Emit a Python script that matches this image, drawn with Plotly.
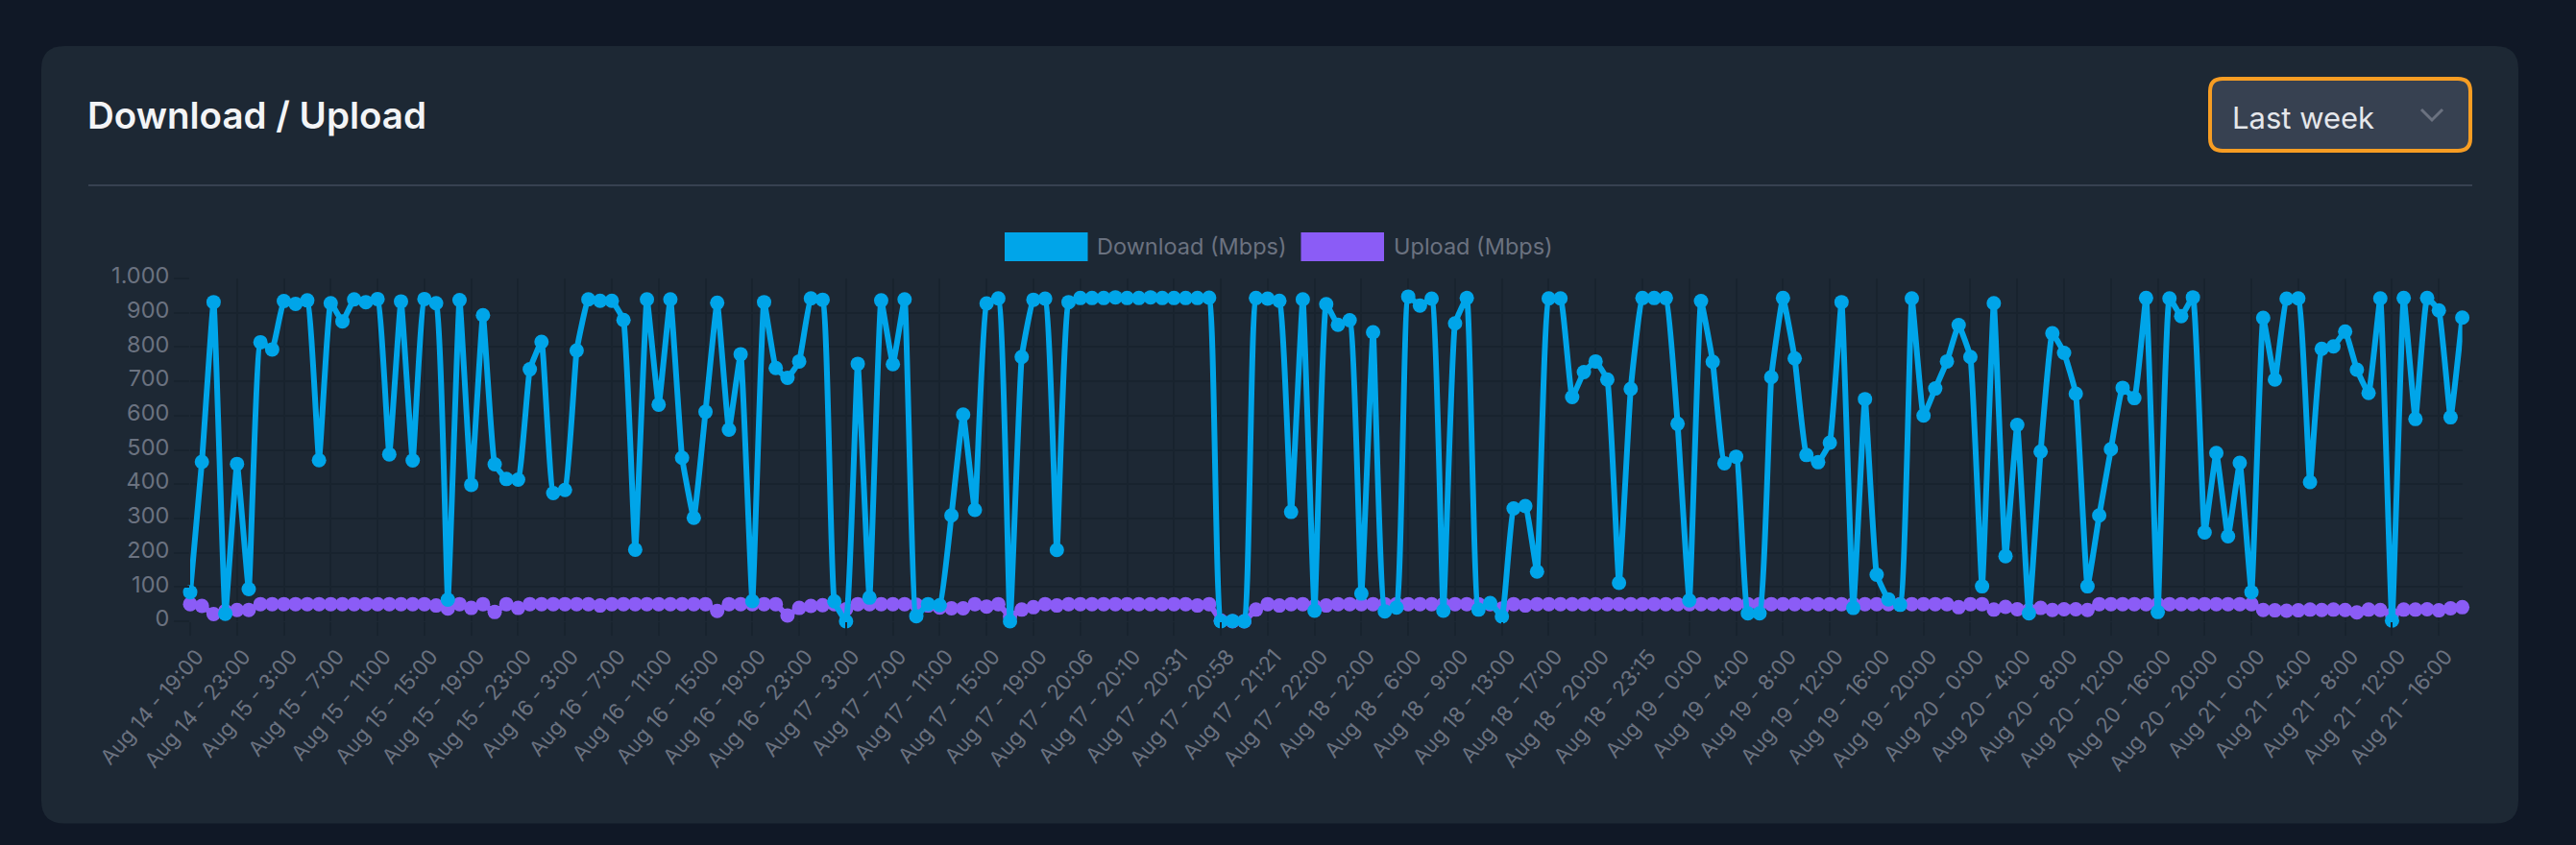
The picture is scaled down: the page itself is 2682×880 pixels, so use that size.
import plotly.graph_objects as go

W, H = 2682, 880

tick_labels = [
    "Aug 14 - 19:00", "Aug 14 - 23:00", "Aug 15 - 3:00", "Aug 15 - 7:00", "Aug 15 - 11:00",
    "Aug 15 - 15:00", "Aug 15 - 19:00", "Aug 15 - 23:00", "Aug 16 - 3:00", "Aug 16 - 7:00",
    "Aug 16 - 11:00", "Aug 16 - 15:00", "Aug 16 - 19:00", "Aug 16 - 23:00", "Aug 17 - 3:00",
    "Aug 17 - 7:00", "Aug 17 - 11:00", "Aug 17 - 15:00", "Aug 17 - 19:00", "Aug 17 - 20:06",
    "Aug 17 - 20:10", "Aug 17 - 20:31", "Aug 17 - 20:58", "Aug 17 - 21:21", "Aug 17 - 22:00",
    "Aug 18 - 2:00", "Aug 18 - 6:00", "Aug 18 - 9:00", "Aug 18 - 13:00", "Aug 18 - 17:00",
    "Aug 18 - 20:00", "Aug 18 - 23:15", "Aug 19 - 0:00", "Aug 19 - 4:00", "Aug 19 - 8:00",
    "Aug 19 - 12:00", "Aug 19 - 16:00", "Aug 19 - 20:00", "Aug 20 - 0:00", "Aug 20 - 4:00",
    "Aug 20 - 8:00", "Aug 20 - 12:00", "Aug 20 - 16:00", "Aug 20 - 20:00", "Aug 21 - 0:00",
    "Aug 21 - 4:00", "Aug 21 - 8:00", "Aug 21 - 12:00", "Aug 21 - 16:00",
]

download = [
    85, 465, 931, 22, 459, 94, 814, 793, 934, 926, 936, 470, 928, 875, 939, 931, 940, 487, 933, 469,
    940, 928, 63, 937, 398, 893, 458, 415, 413, 735, 815, 374, 383, 790, 939, 935, 935, 879, 209, 939,
    632, 939, 477, 302, 611, 929, 559, 779, 59, 931, 739, 710, 758, 942, 938, 58, 0, 751, 69, 936,
    750, 939, 15, 50, 47, 309, 603, 325, 927, 942, 0, 771, 938, 941, 208, 931, 943, 943, 943, 945,
    943, 943, 945, 943, 943, 943, 943, 944, 0, 1, 0, 943, 941, 935, 319, 939, 31, 925, 865, 878,
    81, 843, 29, 40, 947, 921, 941, 31, 869, 943, 34, 53, 14, 329, 336, 145, 942, 942, 654, 727,
    758, 705, 112, 678, 943, 943, 943, 576, 61, 934, 757, 461, 480, 23, 23, 712, 943, 767, 485, 464,
    521, 931, 39, 648, 136, 64, 48, 942, 600, 679, 758, 864, 771, 102, 928, 190, 573, 23, 495, 840,
    783, 664, 102, 309, 502, 681, 651, 943, 27, 942, 890, 945, 259, 491, 248, 462, 85, 885, 705, 941,
    942, 406, 795, 802, 845, 734, 666, 942, 2, 943, 590, 943, 907, 595, 886,
]

upload = [
    50, 45, 21, 30, 33, 33, 50, 50, 50, 50, 50, 50, 50, 50, 50, 50, 50, 50, 50, 50,
    50, 46, 37, 50, 39, 50, 27, 50, 39, 50, 50, 50, 50, 50, 50, 46, 50, 50, 50, 50,
    50, 50, 50, 50, 50, 30, 50, 50, 50, 50, 50, 17, 39, 45, 47, 50, 35, 50, 50, 50,
    50, 50, 48, 46, 40, 38, 38, 50, 43, 50, 14, 34, 41, 50, 46, 50, 50, 50, 50, 50,
    50, 50, 50, 50, 50, 50, 46, 50, 2, 0, 0, 34, 50, 46, 50, 50, 44, 46, 50, 50,
    50, 50, 50, 50, 50, 50, 50, 50, 50, 50, 50, 50, 37, 50, 46, 50, 50, 50, 50, 50,
    50, 50, 50, 50, 50, 50, 50, 50, 50, 50, 50, 50, 50, 50, 50, 50, 50, 50, 50, 50,
    50, 50, 50, 50, 50, 50, 50, 50, 50, 50, 50, 41, 50, 50, 34, 42, 35, 33, 39, 33,
    35, 35, 33, 50, 50, 50, 50, 50, 50, 50, 50, 50, 50, 50, 50, 50, 50, 33, 32, 31,
    32, 34, 33, 34, 33, 26, 34, 33, 20, 34, 34, 35, 32, 38, 41,
]

x = list(range(len(download)))

FONT = "Inter"
GREY = "#6b7280"
GRID = "#18232e"
BLUE = "#00a5e9"
PURPLE = "#8b5cf6"
PAGE = "#101826"


def px(v):
    return v / W


def py(v):
    return 1 - v / H


def round_rect(x0, y0, x1, y1, r):
    # rectangulo redondeado en coordenadas de pantalla
    return (
        f"M {px(x0 + r)} {py(y0)} L {px(x1 - r)} {py(y0)} Q {px(x1)} {py(y0)} {px(x1)} {py(y0 + r)} "
        f"L {px(x1)} {py(y1 - r)} Q {px(x1)} {py(y1)} {px(x1 - r)} {py(y1)} "
        f"L {px(x0 + r)} {py(y1)} Q {px(x0)} {py(y1)} {px(x0)} {py(y1 - r)} "
        f"L {px(x0)} {py(y0 + r)} Q {px(x0)} {py(y0)} {px(x0 + r)} {py(y0)} Z"
    )


def paper_shape(**kw):
    return dict(xref="paper", yref="paper", layer="below", **kw)


def rect(x0, y0, x1, y1, color):
    return paper_shape(type="rect", x0=px(x0), x1=px(x1), y0=py(y0), y1=py(y1),
                       fillcolor=color, line=dict(width=0))


def label(text, x0, y0, size, color, weight=400):
    return dict(text=text, xref="paper", yref="paper", x=px(x0), y=py(y0), xanchor="left", yanchor="middle",
                showarrow=False, font=dict(family=FONT, size=size, color=color, weight=weight))


fig = go.Figure()

fig.add_trace(go.Scatter(
    x=x, y=upload, name="Upload (Mbps)", mode="lines+markers", cliponaxis=False,
    line=dict(color=PURPLE, width=6, shape="spline", smoothing=0.3),
    marker=dict(color=PURPLE, size=15),
))
fig.add_trace(go.Scatter(
    x=x, y=download, name="Download (Mbps)", mode="lines+markers", cliponaxis=False,
    line=dict(color=BLUE, width=6, shape="spline", smoothing=0.3),
    marker=dict(color=BLUE, size=15),
))

fig.update_layout(
    width=W, height=H, autosize=False, showlegend=False,
    margin=dict(l=0, r=0, t=0, b=0),
    paper_bgcolor=PAGE, plot_bgcolor="rgba(0,0,0,0)",
    font=dict(family=FONT, color=GREY),
    xaxis=dict(
        domain=[px(198), px(2563.6)], range=[0, 194], automargin=False,
        tickmode="array", tickvals=x[::4], ticktext=tick_labels, tickangle=-49, ticklabelshift=7,
        ticks="outside", ticklen=14, tickwidth=2, tickcolor=GRID,
        showgrid=True, gridcolor=GRID, gridwidth=2, zeroline=False, showline=False,
        tickfont=dict(family=FONT, size=22, color=GREY),
    ),
    yaxis=dict(
        domain=[py(647), py(290)], range=[0, 1000], automargin=False,
        tickmode="array", tickvals=list(range(0, 1001, 100)),
        ticktext=["0", "100", "200", "300", "400", "500", "600", "700", "800", "900", "1.000"],
        ticklabelshift=-3,
        ticks="outside", ticklen=16, tickwidth=2, tickcolor=GRID,
        showgrid=True, gridcolor=GRID, gridwidth=2, zeroline=False, showline=False,
        tickfont=dict(family=FONT, size=23.5, color=GREY),
    ),
    shapes=[
        paper_shape(type="path", path=round_rect(43, 48, 2622, 857.5, 24), fillcolor="#1d2834", line=dict(width=0)),
        rect(92, 192, 2574, 194, "#374151"),
        paper_shape(type="path", path=round_rect(2301, 82, 2572, 157, 13), fillcolor="#374151",
                    line=dict(color="#f79d23", width=4)),
        paper_shape(type="path",
                    path=f"M {px(2521)} {py(114)} L {px(2532)} {py(125)} L {px(2543)} {py(114)}",
                    line=dict(color=GREY, width=3)),
        rect(1046, 242, 1132.5, 272, BLUE),
        rect(1354.5, 242, 1441, 272, PURPLE),
    ],
    annotations=[
        label("Download / Upload", 89, 120, 38.5, "#f3f4f6", 600),
        label("Last week", 2322, 122, 31, "#e5e7eb"),
        label("Download (Mbps)", 1140, 256, 23.5, GREY),
        label("Upload (Mbps)", 1449, 256, 23.5, GREY),
    ],
)

fig.write_html("out.html", config=dict(displayModeBar=False),
               post_script=f"document.body.style.margin='0';document.body.style.background='{PAGE}';")
